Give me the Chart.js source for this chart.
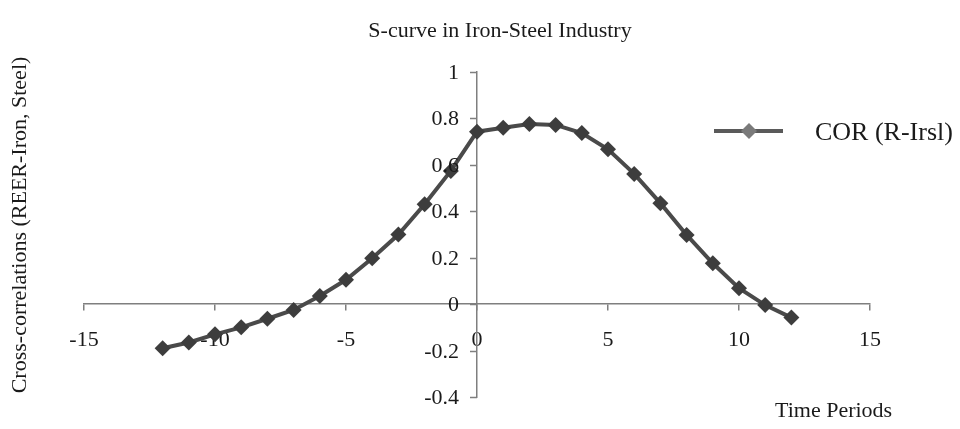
<!DOCTYPE html>
<html>
<head>
<meta charset="utf-8">
<title>S-curve in Iron-Steel Industry</title>
<script src="https://cdn.jsdelivr.net/npm/chart.js@4.4.1/dist/chart.umd.min.js"></script>
<style>
    html, body { margin: 0; padding: 0; background: #fff; }
    #wrap { width: 960px; height: 429px; position: relative; }
</style>
</head>
<body>
<div id="wrap"><canvas id="scurve"></canvas></div>
<script>
// lags (time periods) and cross-correlations
const lags = [-12, -11, -10, -9, -8, -7, -6, -5, -4, -3, -2, -1, 0, 1, 2, 3, 4, 5, 6, 7, 8, 9, 10, 11, 12];
const corr = [-0.19, -0.165, -0.13, -0.10, -0.063, -0.025, 0.035, 0.105, 0.198, 0.30, 0.43, 0.574,
              0.743, 0.76, 0.776, 0.772, 0.737, 0.667, 0.561, 0.435, 0.298, 0.176, 0.069, -0.004, -0.058];
const xTicks = [-15, -10, -5, 0, 5, 10, 15];
const yTicks = [-0.4, -0.2, 0, 0.2, 0.4, 0.6, 0.8, 1];
const yTickLabels = ['-0.4', '-0.2', '0', '0.2', '0.4', '0.6', '0.8', '1'];

const chartTitle = 'S-curve in Iron-Steel Industry';
const xTitle = 'Time Periods';
const yTitle = 'Cross-correlations (REER-Iron, Steel)';
const seriesName = 'COR (R-Irsl)';

const serif = "'Liberation Serif', 'Times New Roman', serif";
const axisGray = '#7f7f7f';
const lineGray = '#4a4a4a';
const textColor = '#1a1a1a';

// title, axis titles, y ticks and legend drawn by hand; the axes cross at zero
const decorations = {
    id: 'decorations',
    afterDraw(chart) {
        const ctx = chart.ctx;
        const xs = chart.scales.x;
        const ys = chart.scales.y;
        const axisX = xs.getPixelForValue(0);
        ctx.save();

        // y tick marks and labels, to the left of the axis at x = 0
        ctx.strokeStyle = axisGray;
        ctx.lineWidth = 1.5;
        ctx.fillStyle = textColor;
        ctx.font = '22px ' + serif;
        ctx.textAlign = 'right';
        ctx.textBaseline = 'middle';
        yTicks.forEach((v, i) => {
            const py = Math.round(ys.getPixelForValue(v)) + 0.5;
            ctx.beginPath();
            ctx.moveTo(axisX - 7, py);
            ctx.lineTo(axisX, py);
            ctx.stroke();
            ctx.fillText(yTickLabels[i], axisX - 18, py + 1);
        });

        ctx.textBaseline = 'alphabetic';
        ctx.textAlign = 'center';
        ctx.fillText(chartTitle, 500, 37);

        ctx.textAlign = 'left';
        ctx.fillText(xTitle, 775, 417);

        ctx.save();
        ctx.translate(26, 225);
        ctx.rotate(-Math.PI / 2);
        ctx.textAlign = 'center';
        ctx.fillText(yTitle, 0, 0);
        ctx.restore();

        // legend
        ctx.strokeStyle = '#5a5a5a';
        ctx.lineWidth = 4;
        ctx.beginPath();
        ctx.moveTo(714, 131);
        ctx.lineTo(783, 131);
        ctx.stroke();
        ctx.fillStyle = '#7a7a7a';
        ctx.beginPath();
        ctx.moveTo(749, 123);
        ctx.lineTo(757, 131);
        ctx.lineTo(749, 139);
        ctx.lineTo(741, 131);
        ctx.closePath();
        ctx.fill();
        ctx.fillStyle = textColor;
        ctx.font = '26px ' + serif;
        ctx.textAlign = 'left';
        ctx.fillText(seriesName, 815, 140);
        ctx.restore();
    }
};

const ctx = document.getElementById('scurve').getContext('2d');
new Chart(ctx, {
    type: 'line',
    data: {
        datasets: [{
            label: seriesName,
            data: lags.map((l, i) => ({ x: l, y: corr[i] })),
            borderColor: lineGray,
            borderWidth: 4,
            pointStyle: 'rectRot',
            pointRadius: 8,
            pointBackgroundColor: '#3d3d3d',
            pointBorderColor: '#3d3d3d',
            pointBorderWidth: 0,
            tension: 0,
            fill: false
        }]
    },
    options: {
        responsive: true,
        maintainAspectRatio: false,
        animation: false,
        layout: { padding: { left: 84, right: 90, top: 72, bottom: 32 } },
        plugins: {
            legend: { display: false },
            title: { display: false },
            tooltip: { enabled: false }
        },
        scales: {
            x: {
                type: 'linear',
                position: { y: 0 },
                min: -15,
                max: 15,
                afterFit: s => { s.height = 0; },
                afterBuildTicks: s => { s.ticks = xTicks.map(v => ({ value: v })); },
                border: { color: axisGray, width: 1.5 },
                grid: { drawOnChartArea: false, color: axisGray, tickLength: 6, lineWidth: 1.5 },
                ticks: {
                    color: textColor,
                    padding: 17,
                    maxRotation: 0,
                    font: { family: serif, size: 22 }
                }
            },
            y: {
                type: 'linear',
                position: { x: 0 },
                min: -0.4,
                max: 1,
                afterFit: s => { s.width = 0; },
                afterBuildTicks: s => { s.ticks = yTicks.map(v => ({ value: v })); },
                border: { color: axisGray, width: 1.5 },
                grid: { display: false },
                ticks: { display: false }
            }
        }
    },
    plugins: [decorations]
});
</script>
</body>
</html>
